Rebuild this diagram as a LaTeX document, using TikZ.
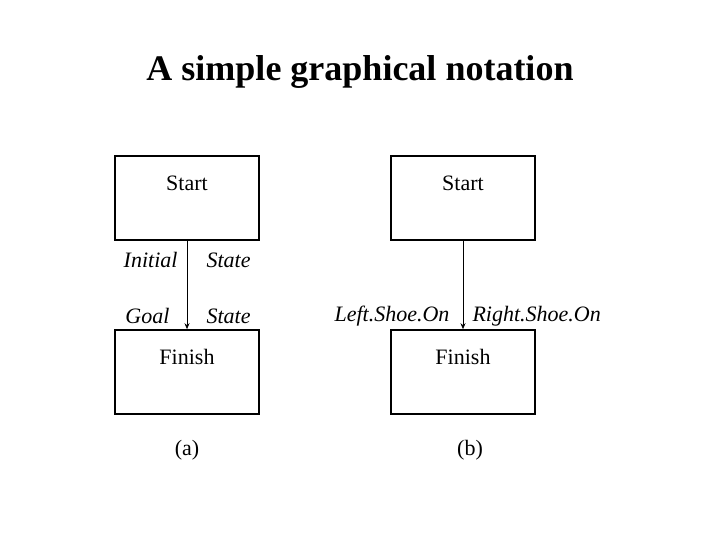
\documentclass[tikz,border=0pt]{standalone}
\usepackage{fontspec}
\setmainfont{Liberation Serif}
\usetikzlibrary{arrows.meta,positioning}
\begin{document}
\begin{tikzpicture}[x=1pt,y=-1pt,>={Stealth[length=6pt,width=5pt]},
box/.style={draw,line width=1.6pt,minimum width=144pt,minimum height=84pt,
  font=\fontsize{22}{26}\selectfont},
lbl/.style={font=\fontsize{22}{26}\selectfont\itshape},
captxt/.style={font=\fontsize{22}{26}\selectfont}
    ]
\useasboundingbox (0,0) rectangle (720,540);
\node[font=\fontsize{36}{40}\selectfont\bfseries] (title) at (360,72) {A simple graphical notation};
% left plan
\node[box,text depth=30pt] (startA) at (187,198) {Start};
\node[box,text depth=30pt] (finishA) at (187,372) {Finish};
\node[lbl,anchor=east] (init) at (181,260) {Initial};
\node[lbl,anchor=west] (initS) at (203,260) {State};
\node[lbl,anchor=east] (goal) at (173,316) {Goal};
\node[lbl,anchor=west] (goalS) at (203,316) {State};
\node[captxt] (a) at (187,450) {(a)};
% right plan
\node[box,text depth=30pt] (startB) at (463,198) {Start};
\node[box,text depth=30pt] (finishB) at (463,372) {Finish};
\node[lbl,anchor=east] (left) at (453,316) {Left.Shoe.On};
\node[lbl,anchor=west] (right) at (469,316) {Right.Shoe.On};
\node[captxt] (b) at (470,450) {(b)};

\draw[->,thick] (startA) -- (finishA);
\draw[->,thick] (startB) -- (finishB);
\end{tikzpicture}
\end{document}
